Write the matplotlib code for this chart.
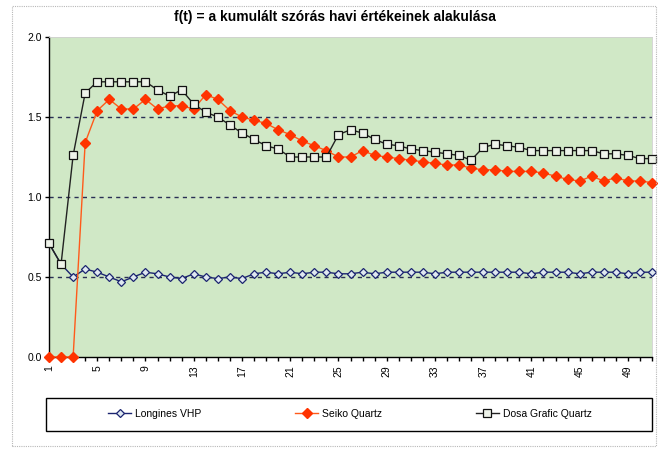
import matplotlib
matplotlib.use("Agg")
import matplotlib.pyplot as plt
from matplotlib.patches import Rectangle
import numpy as np

plt.rcParams['font.family'] = ['Liberation Sans', 'DejaVu Sans']

# havi adatok (1..51. hónap)
months = list(range(1, 52))
tick_labels = [str(m) if (m - 1) % 4 == 0 else "" for m in months]

longines = [0.71, 0.58, 0.50, 0.55, 0.53, 0.50, 0.47, 0.50, 0.53, 0.52,
            0.50, 0.49, 0.52, 0.50, 0.49, 0.50, 0.49, 0.52, 0.53, 0.52,
            0.53, 0.52, 0.53, 0.53, 0.52, 0.52, 0.53, 0.52, 0.53, 0.53,
            0.53, 0.53, 0.52, 0.53, 0.53, 0.53, 0.53, 0.53, 0.53, 0.53,
            0.52, 0.53, 0.53, 0.53, 0.52, 0.53, 0.53, 0.53, 0.52, 0.53,
            0.53]
seiko = [0.0, 0.0, 0.0, 1.34, 1.54, 1.61, 1.55, 1.55, 1.61, 1.55,
         1.57, 1.57, 1.55, 1.64, 1.61, 1.54, 1.50, 1.48, 1.46, 1.42,
         1.39, 1.35, 1.32, 1.29, 1.25, 1.25, 1.29, 1.26, 1.25, 1.24,
         1.23, 1.22, 1.21, 1.20, 1.20, 1.18, 1.17, 1.17, 1.16, 1.16,
         1.16, 1.15, 1.13, 1.11, 1.10, 1.13, 1.10, 1.12, 1.10, 1.10,
         1.09]
dosa = [0.71, 0.58, 1.26, 1.65, 1.72, 1.72, 1.72, 1.72, 1.72, 1.67,
        1.63, 1.67, 1.58, 1.53, 1.50, 1.45, 1.40, 1.36, 1.32, 1.30,
        1.25, 1.25, 1.25, 1.25, 1.39, 1.42, 1.40, 1.36, 1.33, 1.32,
        1.30, 1.29, 1.28, 1.27, 1.26, 1.23, 1.31, 1.33, 1.32, 1.31,
        1.29, 1.29, 1.29, 1.29, 1.29, 1.29, 1.27, 1.27, 1.26, 1.24,
        1.24]

W, H = 670, 449
fig = plt.figure(figsize=(W / 100, H / 100), dpi=100)
fig.patch.set_facecolor("white")

# chart area border
fig.patches.append(Rectangle((12 / W, 1 - 446 / H), 644 / W, 440 / H,
                             transform=fig.transFigure, fill=False,
                             edgecolor="#b8b8b8", lw=0.8, ls=(0, (1, 1))))

ax = fig.add_axes([49 / W, 1 - 357 / H, 603 / W, 320 / H])
ax.set_facecolor("#d0e8c6")

for y in [0.5, 1.0, 1.5]:
    ax.axhline(y, color="#2a2f55", lw=1.0, ls=(0, (3, 3)), zorder=1)

ax.plot(months, longines, color="#1b2470", lw=1.0, marker="D", ms=4,
        mfc="#dfe8f0", mec="#1b2470", mew=0.9, zorder=3, clip_on=False,
        label="Longines VHP")
ax.plot(months, seiko, color="#ff5a1a", lw=1.0, marker="D", ms=5,
        mfc="#ff3300", mec="#ff3300", zorder=4, clip_on=False,
        label="Seiko Quartz")
ax.plot(months, dosa, color="#222222", lw=1.0, marker="s", ms=5.5,
        mfc="#eef3ea", mec="#111111", mew=0.9, zorder=5, clip_on=False,
        label="Dosa Grafic Quartz")

ax.set_xlim(1, 51)
ax.set_ylim(0, 2.0)
ax.set_xticks(months)
ax.set_xticklabels(tick_labels, rotation=90, fontsize=7.5)
ax.set_yticks([0.0, 0.5, 1.0, 1.5, 2.0])
ax.set_yticklabels(["0.0", "0.5", "1.0", "1.5", "2.0"], fontsize=7.5)
ax.tick_params(axis="x", length=3, width=1, pad=3)
ax.tick_params(axis="y", length=3, width=1, pad=2)

for s in ["top", "right"]:
    ax.spines[s].set_color("#d0d0d0")
    ax.spines[s].set_linewidth(0.6)
for s in ["left", "bottom"]:
    ax.spines[s].set_linewidth(1.0)

fig.text(335 / W, 1 - 17 / H, "f(t) = a kumulált szórás havi értékeinek alakulása",
         ha="center", va="center", fontsize=10, fontweight="bold")

# legend box
fig.patches.append(Rectangle((46 / W, 1 - 431 / H), 606 / W, 33 / H,
                             transform=fig.transFigure, fill=False,
                             edgecolor="black", lw=1.0))
fig.legend(loc="center", bbox_to_anchor=(350 / W, 1 - 414 / H), ncol=3,
           frameon=False, fontsize=7.5, handlelength=2.2, columnspacing=9,
           handletextpad=0.4)

fig.savefig("out.png", dpi=100)
